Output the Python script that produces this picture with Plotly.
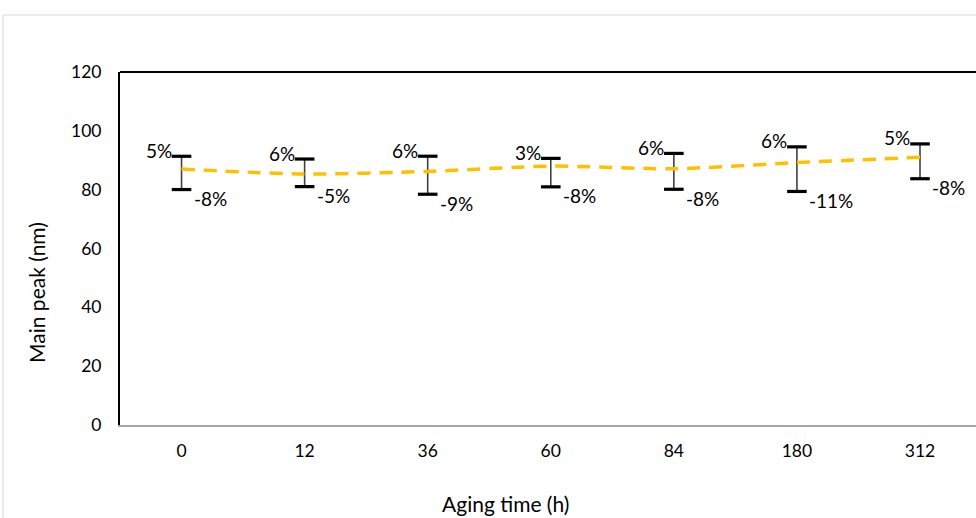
import plotly.graph_objects as go

# ---- data ----
aging_time = ["0", "12", "36", "60", "84", "180", "312"]
main_peak = [87.0, 85.3, 86.2, 88.0, 87.1, 89.2, 91.0]
upper_pct = [5, 6, 6, 3, 6, 6, 5]
lower_pct = [8, 5, 9, 8, 8, 11, 8]
y_ticks = [0, 20, 40, 60, 80, 100, 120]

upper_err = [v * p / 100 for v, p in zip(main_peak, upper_pct)]
lower_err = [v * p / 100 for v, p in zip(main_peak, lower_pct)]
upper_val = [v + e for v, e in zip(main_peak, upper_err)]
lower_val = [v - e for v, e in zip(main_peak, lower_err)]

FONT = "Lato, Calibri, 'Noto Sans', sans-serif"

fig = go.Figure()

# error bar stems
fig.add_trace(go.Scatter(
    x=aging_time, y=main_peak, mode="none",
    error_y=dict(type="data", symmetric=False, array=upper_err, arrayminus=lower_err,
                 color="#404040", thickness=1.6, width=0),
    showlegend=False, hoverinfo="skip"))

# dashed line
fig.add_trace(go.Scatter(
    x=aging_time, y=main_peak, mode="lines",
    line=dict(color="#FFC000", width=3.5, dash="13px,9px", shape="spline", smoothing=0.6),
    showlegend=False))

# caps
fig.add_trace(go.Scatter(
    x=aging_time + aging_time, y=upper_val + lower_val, mode="markers",
    marker=dict(symbol="line-ew", size=14, line=dict(color="black", width=3.2)),
    showlegend=False, hoverinfo="skip"))

annotations = []
for i, (uv, lv, up, lp) in enumerate(zip(upper_val, lower_val, upper_pct, lower_pct)):
    annotations.append(dict(x=i, y=uv, xref="x", yref="y", text=f"{up}%", showarrow=False,
                            xanchor="right", yanchor="middle", xshift=-8, yshift=6,
                            font=dict(family=FONT, size=19, color="black")))
    annotations.append(dict(x=i, y=lv, xref="x", yref="y", text=f"-{lp}%", showarrow=False,
                            xanchor="left", yanchor="middle", xshift=10, yshift=-9,
                            font=dict(family=FONT, size=19, color="black")))

annotations.append(dict(x=-0.097, y=0.377, xref="paper", yref="paper", text="Main peak (nm)",
                        textangle=-90, showarrow=False, xanchor="center", yanchor="middle",
                        font=dict(family=FONT, size=21, color="black")))
annotations.append(dict(x=0.4498, y=-0.221, xref="paper", yref="paper", text="Aging time (h)",
                        showarrow=False, xanchor="center", yanchor="middle",
                        font=dict(family=FONT, size=21, color="black")))

shapes = [
    # outer chart border (light gray)
    dict(type="rect", xref="paper", yref="paper", x0=-0.1367, y0=-0.4, x1=1.05, y1=1.1615,
         line=dict(color="#D9D9D9", width=1), fillcolor="rgba(0,0,0,0)", layer="below"),
    # top border of plot area
    dict(type="line", xref="paper", yref="paper", x0=0, y0=1, x1=1.02, y1=1,
         line=dict(color="black", width=2)),
]

fig.update_layout(
    width=976, height=518,
    margin=dict(l=120, r=0, t=72, b=93),
    paper_bgcolor="white", plot_bgcolor="white",
    font=dict(family=FONT, size=18, color="black"),
    showlegend=False,
    annotations=annotations,
    shapes=shapes,
    xaxis=dict(type="category", range=[-0.5, 6.455], showgrid=False, zeroline=False,
               showline=True, linecolor="#A6A6A6", linewidth=2, ticks="",
               ticklabelstandoff=9, tickfont=dict(family=FONT, size=17.5, color="black")),
    yaxis=dict(range=[0, 120], tickvals=y_ticks, showgrid=False, zeroline=False,
               showline=True, linecolor="black", linewidth=2, ticks="",
               ticklabelstandoff=13, tickfont=dict(family=FONT, size=17.5, color="black")),
)

fig.write_html("out.html", config={"displayModeBar": False},
               post_script="document.body.style.margin='0';")
